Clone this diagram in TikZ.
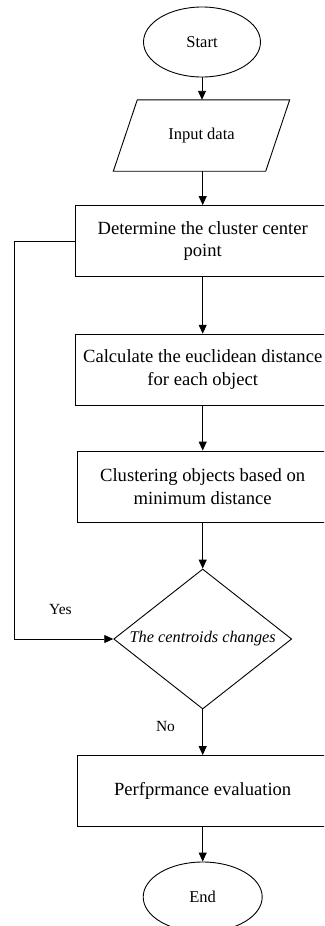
\documentclass[tikz,border=0pt]{standalone}
\usepackage{fontspec}
\setmainfont{Liberation Serif}
\usetikzlibrary{shapes.geometric,arrows.meta}
\begin{document}
\begin{tikzpicture}[x=1pt,y=-1pt,
  base/.style={draw=black, line width=0.9pt, text=black},
  term/.style={base, ellipse, minimum width=117pt, minimum height=70pt, inner sep=0pt, font=\fontsize{16.5}{19}\selectfont},
  io/.style={rectangle, minimum width=152pt, minimum height=71pt, inner sep=0pt, text=black, font=\fontsize{16.5}{19}\selectfont},
  procbox/.style={base, rectangle, minimum height=71pt, inner sep=0pt, align=center, font=\fontsize{18.6}{22.5}\selectfont},
  decide/.style={base, diamond, minimum width=178pt, minimum height=140pt, aspect=1.27, inner sep=0pt, font=\fontsize{16.3}{19}\selectfont\itshape},
  lbl/.style={font=\fontsize{15.5}{18}\selectfont, inner sep=0pt, text=black},
  arr/.style={line width=0.9pt, -{Triangle[length=9pt,width=8pt]}}
]
\useasboundingbox (0,0) rectangle (324,926);
\clip (0,0) rectangle (324,926);

\node[term] (start) at (202,42) {Start};
\node[io] (inp) at (201.5,135.5) {Input data};
\draw[base] ([xshift=12pt]inp.north west) -- ([xshift=12pt]inp.north east)
  -- ([xshift=-12pt]inp.south east) -- ([xshift=-12pt]inp.south west) -- cycle;
\node[procbox, minimum width=255pt] (b1) at (202.7,241) {Determine the cluster center\\point};
\node[procbox, minimum width=255pt] (b2) at (202.7,369.7) {Calculate the euclidean distance\\for each object};
\node[procbox, minimum width=251pt] (b3) at (202.7,486.5) {Clustering objects based on\\minimum distance};
\node[decide] (dec) at (202.7,639) {The centroids changes};
\node[procbox, minimum width=251pt] (b4) at (202.7,791) {Perfprmance evaluation};
\node[term, minimum width=119pt] (end) at (202.7,897) {End};

\node[lbl] (yes) at (60.5,609) {Yes};
\node[lbl] (no) at (165.5,726) {No};

\coordinate (fb) at (14,241);

\draw[arr] (start.south) -- (start.south |- inp.north);
\draw[arr] (inp.south -| b1.north) -- (b1.north);
\draw[arr] (b1.south) -- (b2.north);
\draw[arr] (b2.south) -- (b3.north);
\draw[arr] (b3.south) -- (dec.north);
\draw[arr] (dec.south) -- (b4.north);
\draw[arr] (b4.south) -- (end.north);
\draw[arr] (b1.west) -- (fb) |- (dec.west);
\end{tikzpicture}
\end{document}
